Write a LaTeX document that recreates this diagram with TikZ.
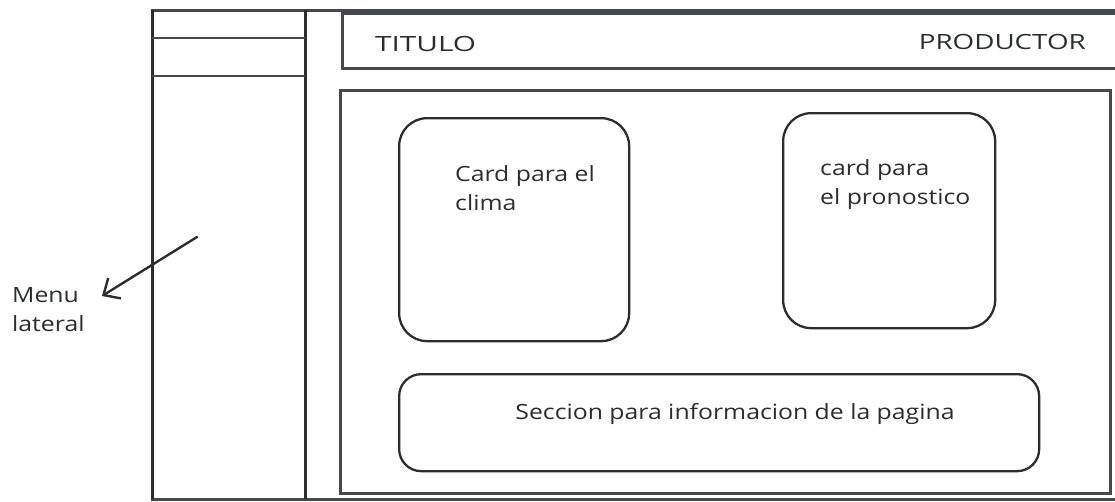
\documentclass[tikz,border=0pt]{standalone}
\usepackage{fontspec}
\setmainfont[FakeStretch=1.18]{Open Sans}
\usetikzlibrary{arrows.meta}
\definecolor{ink}{HTML}{2B2E2E}
\definecolor{frameink}{HTML}{454949}
\tikzset{
  frame/.style={draw=frameink, line width=3pt},
  thinline/.style={draw=frameink, line width=2.8pt},
  card/.style={draw=ink, line width=2.3pt, rounded corners=28pt},
  lbl/.style={text=ink, font=\fontsize{21}{29}\selectfont, inner sep=0pt, align=left},
  captext/.style={text=ink, font=\fontsize{21}{25}\selectfont, inner sep=0pt},
}
\begin{document}
\begin{tikzpicture}[x=1pt,y=-1pt]
\useasboundingbox (0,0) rectangle (1115,501);
\clip (0,0) rectangle (1115,501);
% outer frame and sidebar
\draw[frame] (152,10) rectangle (1130,499);
\draw[frame, draw=ink] (305,10) -- (305,499);
\draw[frame, draw=ink] (152,10) -- (152,499);
\draw[thinline] (152,38) -- (305,38);
\draw[thinline] (152,76) -- (305,76);
% header
\draw[frame] (1130,13) -- (342,13) -- (342,68) -- (1130,68);
\node[captext, anchor=west] (titulo) at (375,44) {\scalebox{1.2}[1]{TITULO}};
\node[captext, anchor=east] (productor) at (1086,42) {\scalebox{1.12}[1]{PRODUCTOR}};
% content
\draw[frame] (340,90) rectangle (1110,493);
\node[card, minimum width=230pt, minimum height=223pt, anchor=north west] (c1) at (398,117) {};
\node[lbl, anchor=north west] (t1) at (455,165) {Card para el\\clima};
\node[card, minimum width=212pt, minimum height=215pt, anchor=north west] (c2) at (782,112) {};
\node[lbl, anchor=north west] (t2) at (820,159) {card para\\el pronostico};
\node[card, rounded corners=22pt, minimum width=640pt, minimum height=97pt, anchor=north west] (c3) at (398,373) {};
\node[captext, align=center] (t3) at (735,414) {Seccion para informacion de la pagina};
% menu label and arrow
\node[lbl, anchor=north west] (menu) at (12,287) {Menu\\lateral};
\coordinate (a0) at (197,237);
\coordinate (a1) at (102,296);
\draw[draw=ink, line width=2.4pt, line cap=round, -{Straight Barb[length=13pt,width=24pt,line width=2.4pt]}] (a0) -- (a1);
\end{tikzpicture}
\end{document}
